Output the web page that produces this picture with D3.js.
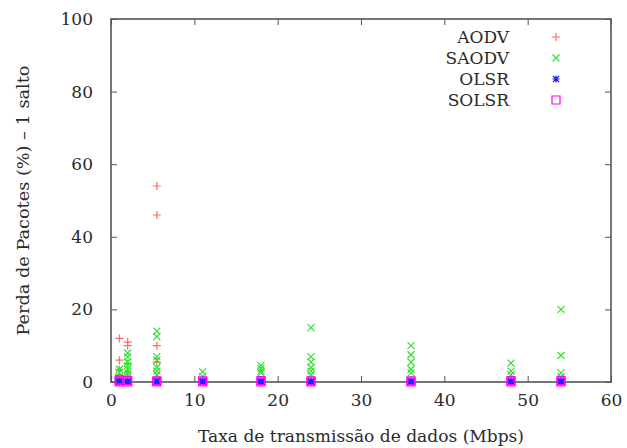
<!DOCTYPE html>
<html>
<head>
<meta charset="utf-8">
<script src="https://cdn.jsdelivr.net/npm/d3@7"></script>
<style>
  html, body { margin: 0; padding: 0; background: #fff; }
  svg { display: block; }
  text { font-family: "DejaVu Serif", serif; fill: #2a2a2a; }
</style>
</head>
<body>
<svg id="chart" width="627" height="448"></svg>
<script>
// Transmission rates (Mbps) at which each protocol was measured
const rates = [1, 2, 5.5, 11, 18, 24, 36, 48, 54];

// Packet loss (%) per run, one list per rate
const aodv  = [[12, 6, 3.5, 2, 1], [11, 10, 5, 2.5], [54, 46, 10, 5.5, 1], [0.5], [0.5], [0.5], [0.3], [0.3], [0.3]];
const saodv = [[3.5, 2.5, 1.5, 1], [8, 7, 5.5, 4.5, 3.5, 2.5, 1.5], [14, 12.5, 7, 6, 4, 3, 2], [2.8, 1.5],
               [4.6, 3.8, 3, 2.5], [15, 7, 5.5, 4, 3, 2], [10, 7.5, 5.5, 3.5, 2.5], [5.2, 3, 2], [20, 7.3, 2.5, 1.5]];
const olsr  = [[0, 0.3], [0, 0.3], [0, 0.2], [0, 0.2], [0, 0.3], [0, 0.2], [0, 0.2], [0, 0.3], [0, 0.3]];
const solsr = [[0, 0.3, 0.6], [0, 0.4], [0, 0.3], [0, 0.3], [0, 0.4], [0, 0.3], [0, 0.3], [0, 0.4], [0, 0.4]];

const seriesNames = ["AODV", "SAODV", "OLSR", "SOLSR"];
const xTicks = [0, 10, 20, 30, 40, 50, 60];
const yTicks = [0, 20, 40, 60, 80, 100];
const xTitle = "Taxa de transmissão de dados (Mbps)";
const yTitle = "Perda de Pacotes (%) – 1 salto";

const svg = d3.select("#chart");
const m = { left: 111, right: 611, top: 19, bottom: 382 };

const x = d3.scaleLinear().domain([0, 60]).range([m.left, m.right]);
const y = d3.scaleLinear().domain([0, 100]).range([m.bottom, m.top]);

// Marker glyphs, gnuplot style
const glyph = {
  plus:   "M-4,0H4M0,-4V4",
  cross:  "M-3.5,-3.5L3.5,3.5M-3.5,3.5L3.5,-3.5",
  star:   "M-3.5,0H3.5M0,-3.5V3.5M-3,-3L3,3M-3,3L3,-3",
  square: "M-4,-4H4V4H-4Z"
};
const styles = [
  { name: seriesNames[0], data: aodv,  glyph: glyph.plus,   color: "#ff6a6a" },
  { name: seriesNames[1], data: saodv, glyph: glyph.cross,  color: "#33e033" },
  { name: seriesNames[2], data: olsr,  glyph: glyph.star,   color: "#2020ff" },
  { name: seriesNames[3], data: solsr, glyph: glyph.square, color: "#ff00ff" }
];

// Axes with inward ticks on all four sides
const tickLen = 6;
const axisColor = "#555";
const axes = svg.append("g");

axes.append("g")
  .attr("transform", `translate(0,${m.bottom})`)
  .call(d3.axisBottom(x).tickValues(xTicks).tickSizeInner(-tickLen).tickSizeOuter(0).tickPadding(12))
  .call(g => g.select(".domain").remove());
axes.append("g")
  .attr("transform", `translate(0,${m.top})`)
  .call(d3.axisTop(x).tickValues(xTicks).tickSizeInner(-tickLen).tickSizeOuter(0).tickFormat(""))
  .call(g => g.select(".domain").remove());
axes.append("g")
  .attr("transform", `translate(${m.left},0)`)
  .call(d3.axisLeft(y).tickValues(yTicks).tickSizeInner(-tickLen).tickSizeOuter(0).tickPadding(18))
  .call(g => g.select(".domain").remove());
axes.append("g")
  .attr("transform", `translate(${m.right},0)`)
  .call(d3.axisRight(y).tickValues(yTicks).tickSizeInner(-tickLen).tickSizeOuter(0).tickFormat(""))
  .call(g => g.select(".domain").remove());

axes.selectAll(".tick line").attr("stroke", axisColor).attr("stroke-width", 1);
axes.selectAll(".tick text")
  .attr("font-family", "DejaVu Serif, serif")
  .attr("font-size", 17)
  .attr("fill", "#2a2a2a");

// Plot border
svg.append("rect")
  .attr("x", m.left).attr("y", m.top)
  .attr("width", m.right - m.left).attr("height", m.bottom - m.top)
  .attr("fill", "none").attr("stroke", axisColor).attr("stroke-width", 1.6);

// Points
const points = svg.append("g");
styles.forEach(s => {
  const flat = [];
  s.data.forEach((vals, i) => vals.forEach(v => flat.push([rates[i], v])));
  points.append("g")
    .selectAll("path")
    .data(flat)
    .join("path")
    .attr("transform", d => `translate(${x(d[0])},${y(d[1])})`)
    .attr("d", s.glyph)
    .attr("fill", "none")
    .attr("stroke", s.color)
    .attr("stroke-width", 1.2);
});

// Legend
const legend = svg.append("g");
const legendY = [37, 58, 79, 100];
styles.forEach((s, i) => {
  legend.append("text")
    .attr("x", 509).attr("y", legendY[i])
    .attr("dy", "0.35em")
    .attr("text-anchor", "end")
    .attr("font-size", 17)
    .text(s.name);
  legend.append("path")
    .attr("transform", `translate(556,${legendY[i]})`)
    .attr("d", s.glyph)
    .attr("fill", "none")
    .attr("stroke", s.color)
    .attr("stroke-width", 1.2);
});

// Axis titles
svg.append("text")
  .attr("x", (m.left + m.right) / 2).attr("y", 442)
  .attr("text-anchor", "middle")
  .attr("font-size", 16)
  .attr("textLength", 326)
  .attr("lengthAdjust", "spacingAndGlyphs")
  .text(xTitle);
svg.append("text")
  .attr("transform", `translate(29,${(m.top + m.bottom) / 2}) rotate(-90)`)
  .attr("text-anchor", "middle")
  .attr("font-size", 17)
  .attr("textLength", 270)
  .attr("lengthAdjust", "spacingAndGlyphs")
  .text(yTitle);
</script>
</body>
</html>
